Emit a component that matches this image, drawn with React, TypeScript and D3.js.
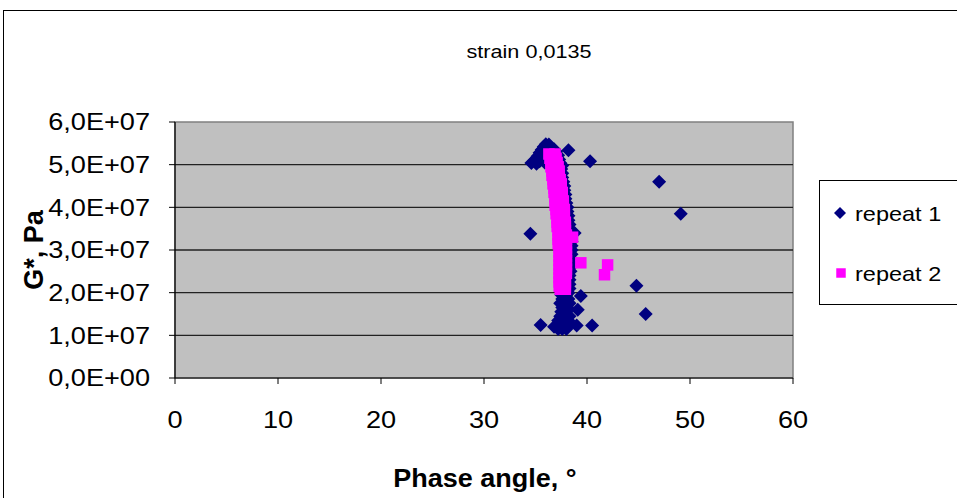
import React from 'react';
import * as d3 from 'd3';

// phase angle (deg), G* (Pa)
const repeat1: [number, number][] = [
  [36.0, 5.48e7], [36.3, 5.47e7], [35.8, 5.42e7], [36.5, 5.40e7], [35.6, 5.35e7], [36.8, 5.36e7],
  [35.4, 5.28e7], [37.0, 5.30e7], [35.2, 5.20e7], [35.6, 5.18e7], [37.2, 5.22e7], [34.9, 5.10e7],
  [35.4, 5.08e7], [37.3, 5.12e7], [34.6, 5.04e7], [35.1, 5.02e7], [35.9, 5.05e7], [37.4, 5.04e7],
  [38.2, 5.34e7], [40.3, 5.08e7], [37.6, 4.98e7],
  [37.5, 4.9e7], [37.0, 4.9e7], [37.6, 4.8e7], [37.6, 4.7e7], [37.1, 4.7e7], [37.7, 4.6e7],
  [37.8, 4.5e7], [37.2, 4.5e7], [37.8, 4.4e7], [37.9, 4.3e7], [37.3, 4.3e7], [37.9, 4.2e7],
  [38.0, 4.1e7], [37.4, 4.1e7], [38.1, 4.0e7], [38.1, 3.9e7], [37.5, 3.9e7], [38.2, 3.8e7],
  [38.2, 3.7e7], [37.6, 3.7e7], [38.3, 3.6e7], [38.3, 3.5e7], [37.6, 3.5e7], [38.4, 3.4e7],
  [38.8, 3.4e7], [34.5, 3.38e7], [38.4, 3.3e7], [38.5, 3.2e7], [37.7, 3.2e7], [38.5, 3.1e7],
  [38.5, 3.0e7], [37.8, 3.0e7], [38.5, 2.9e7], [38.4, 2.8e7], [37.8, 2.8e7], [38.4, 2.7e7],
  [38.4, 2.6e7], [37.8, 2.6e7], [38.4, 2.5e7], [38.3, 2.4e7], [37.8, 2.4e7], [38.3, 2.3e7],
  [38.3, 2.2e7], [37.7, 2.2e7], [38.3, 2.1e7], [38.2, 2.0e7], [37.6, 2.0e7],
  [37.5, 1.95e7], [38.0, 1.95e7], [39.4, 1.92e7], [37.6, 1.85e7], [38.2, 1.85e7],
  [37.4, 1.75e7], [37.9, 1.75e7], [38.3, 1.75e7], [37.6, 1.65e7], [38.1, 1.65e7], [39.1, 1.6e7],
  [37.5, 1.55e7], [38.0, 1.55e7], [37.4, 1.45e7], [37.9, 1.45e7], [38.3, 1.45e7],
  [37.2, 1.35e7], [37.7, 1.35e7], [38.2, 1.35e7],
  [35.5, 1.24e7], [36.8, 1.2e7], [37.3, 1.25e7], [37.8, 1.22e7], [38.3, 1.25e7], [39.0, 1.23e7], [40.5, 1.23e7],
  [37.2, 1.15e7], [37.6, 1.15e7], [38.0, 1.15e7],
  [47.0, 4.6e7], [49.1, 3.85e7], [44.8, 2.16e7], [45.7, 1.5e7],
];

const repeat2: [number, number][] = [
  [36.3, 5.25e7], [36.9, 5.25e7], [36.4, 5.15e7], [37.0, 5.15e7], [36.5, 5.05e7], [37.1, 5.05e7],
  [36.5, 4.95e7], [37.2, 4.95e7], [36.6, 4.85e7], [37.3, 4.85e7], [36.6, 4.75e7], [37.3, 4.75e7],
  [36.7, 4.65e7], [37.4, 4.65e7], [36.7, 4.55e7], [37.5, 4.55e7], [36.8, 4.45e7], [37.5, 4.45e7],
  [36.8, 4.35e7], [37.6, 4.35e7], [36.9, 4.25e7], [37.6, 4.25e7], [36.9, 4.15e7], [37.7, 4.15e7],
  [36.9, 4.05e7], [37.7, 4.05e7], [37.0, 3.95e7], [37.8, 3.95e7], [37.0, 3.85e7], [37.8, 3.85e7],
  [37.1, 3.75e7], [37.8, 3.75e7], [37.1, 3.65e7], [37.9, 3.65e7], [37.1, 3.55e7], [37.9, 3.55e7],
  [37.2, 3.45e7], [37.9, 3.45e7], [37.2, 3.35e7], [38.0, 3.35e7], [38.6, 3.3e7],
  [37.2, 3.25e7], [38.0, 3.25e7], [37.2, 3.15e7], [38.0, 3.15e7], [37.3, 3.05e7], [38.0, 3.05e7],
  [37.3, 2.95e7], [38.0, 2.95e7], [37.3, 2.85e7], [38.0, 2.85e7], [37.3, 2.75e7], [38.0, 2.75e7],
  [37.3, 2.65e7], [38.0, 2.65e7], [37.3, 2.55e7], [38.0, 2.55e7], [37.3, 2.45e7], [38.0, 2.45e7],
  [37.3, 2.35e7], [37.9, 2.35e7], [37.3, 2.25e7], [37.9, 2.25e7], [37.3, 2.15e7], [37.9, 2.15e7],
  [37.4, 2.08e7], [37.9, 2.08e7],
  [39.4, 2.7e7], [42.0, 2.65e7], [41.7, 2.42e7],
];

const xTicks = [0, 10, 20, 30, 40, 50, 60];
const yTicks = [0, 1e7, 2e7, 3e7, 4e7, 5e7, 6e7];
const seriesNames = ['repeat 1', 'repeat 2'];

const font = '"Liberation Sans", Arial, sans-serif';
const navy = '#000080';
const magenta = '#FF00FF';

const fmtY = (v: number) => {
  const e = v === 0 ? 0 : Math.floor(Math.log10(v));
  const m = v / Math.pow(10, e);
  return `${m.toFixed(1).replace('.', ',')}E+${String(e).padStart(2, '0')}`;
};

// the source chart was stretched sideways, so text is widened a little
const Txt = ({ x, y, sx = 1.15, size, anchor = 'start', bold = false, dy, children }: any) => (
  <g transform={`translate(${x},${y}) scale(${sx},1)`}>
    <text x={0} y={0} dy={dy} textAnchor={anchor} fontSize={size} fontWeight={bold ? 'bold' : 'normal'} fill="#000">
      {children}
    </text>
  </g>
);

export default function App() {
  const W = 957, H = 498;
  const plot = { left: 175, right: 793, top: 122, bottom: 378 };
  const x = d3.scaleLinear().domain([0, 60]).range([plot.left, plot.right]);
  const y = d3.scaleLinear().domain([0, 6e7]).range([plot.bottom, plot.top]);

  const diamond = d3.symbol().type(d3.symbolSquare).size(98)()!;
  const square = d3.symbol().type(d3.symbolSquare).size(132)()!;
  const legDiamond = d3.symbol().type(d3.symbolSquare).size(72)()!;
  const legSquare = d3.symbol().type(d3.symbolSquare).size(90)()!;

  return (
    <svg width={W} height={H} style={{ position: 'absolute', left: 0, top: 0, background: '#fff' }} fontFamily={font}>
      <rect x={3.5} y={10.5} width={1000} height={1000} fill="#fff" stroke="#000" />
      <Txt x={529} y={58} sx={1.17} size={18.5} anchor="middle">strain 0,0135</Txt>

      <rect x={plot.left} y={plot.top} width={plot.right - plot.left} height={plot.bottom - plot.top}
        fill="#C0C0C0" stroke="#808080" strokeWidth={1.5} />
      {yTicks.slice(1, -1).map(t => (
        <line key={t} x1={plot.left} x2={plot.right} y1={y(t)} y2={y(t)} stroke="#222" strokeWidth={1.4} />
      ))}

      {repeat1.map((d, i) => (
        <path key={'a' + i} d={diamond} fill={navy}
          transform={`translate(${x(d[0])},${y(d[1])}) rotate(45)`} />
      ))}
      {repeat2.map((d, i) => (
        <path key={'b' + i} d={square} fill={magenta}
          transform={`translate(${x(d[0])},${y(d[1])})`} />
      ))}

      {/* axes */}
      <line x1={plot.left} x2={plot.left} y1={plot.top} y2={plot.bottom} stroke="#000" strokeWidth={1.2} />
      <line x1={plot.left} x2={plot.right} y1={plot.bottom} y2={plot.bottom} stroke="#000" strokeWidth={1.2} />
      {yTicks.map(t => (
        <g key={t}>
          <line x1={plot.left - 6} x2={plot.left} y1={y(t)} y2={y(t)} stroke="#000" />
          <Txt x={150} y={y(t)} dy="0.36em" sx={1.18} size={23} anchor="end">{fmtY(t)}</Txt>
        </g>
      ))}
      {xTicks.map(t => (
        <g key={t}>
          <line x1={x(t)} x2={x(t)} y1={plot.bottom} y2={plot.bottom + 6} stroke="#000" />
          <Txt x={x(t)} y={428} sx={1.18} size={23} anchor="middle">{t}</Txt>
        </g>
      ))}

      <Txt x={485} y={487} sx={1.08} size={25} anchor="middle" bold>Phase angle, °</Txt>
      <text transform={`translate(43,250) rotate(-90)`} textAnchor="middle" fontSize={27} fontWeight="bold" fill="#000">G*, Pa</text>

      {/* legend */}
      <rect x={819.5} y={180.5} width={200} height={124} fill="#fff" stroke="#000" />
      <path d={legDiamond} fill={navy} transform="translate(840,213) rotate(45)" />
      <Txt x={855} y={221} sx={1.12} size={21}>{seriesNames[0]}</Txt>
      <path d={legSquare} fill={magenta} transform="translate(841,273)" />
      <Txt x={855} y={281} sx={1.12} size={21}>{seriesNames[1]}</Txt>
    </svg>
  );
}
